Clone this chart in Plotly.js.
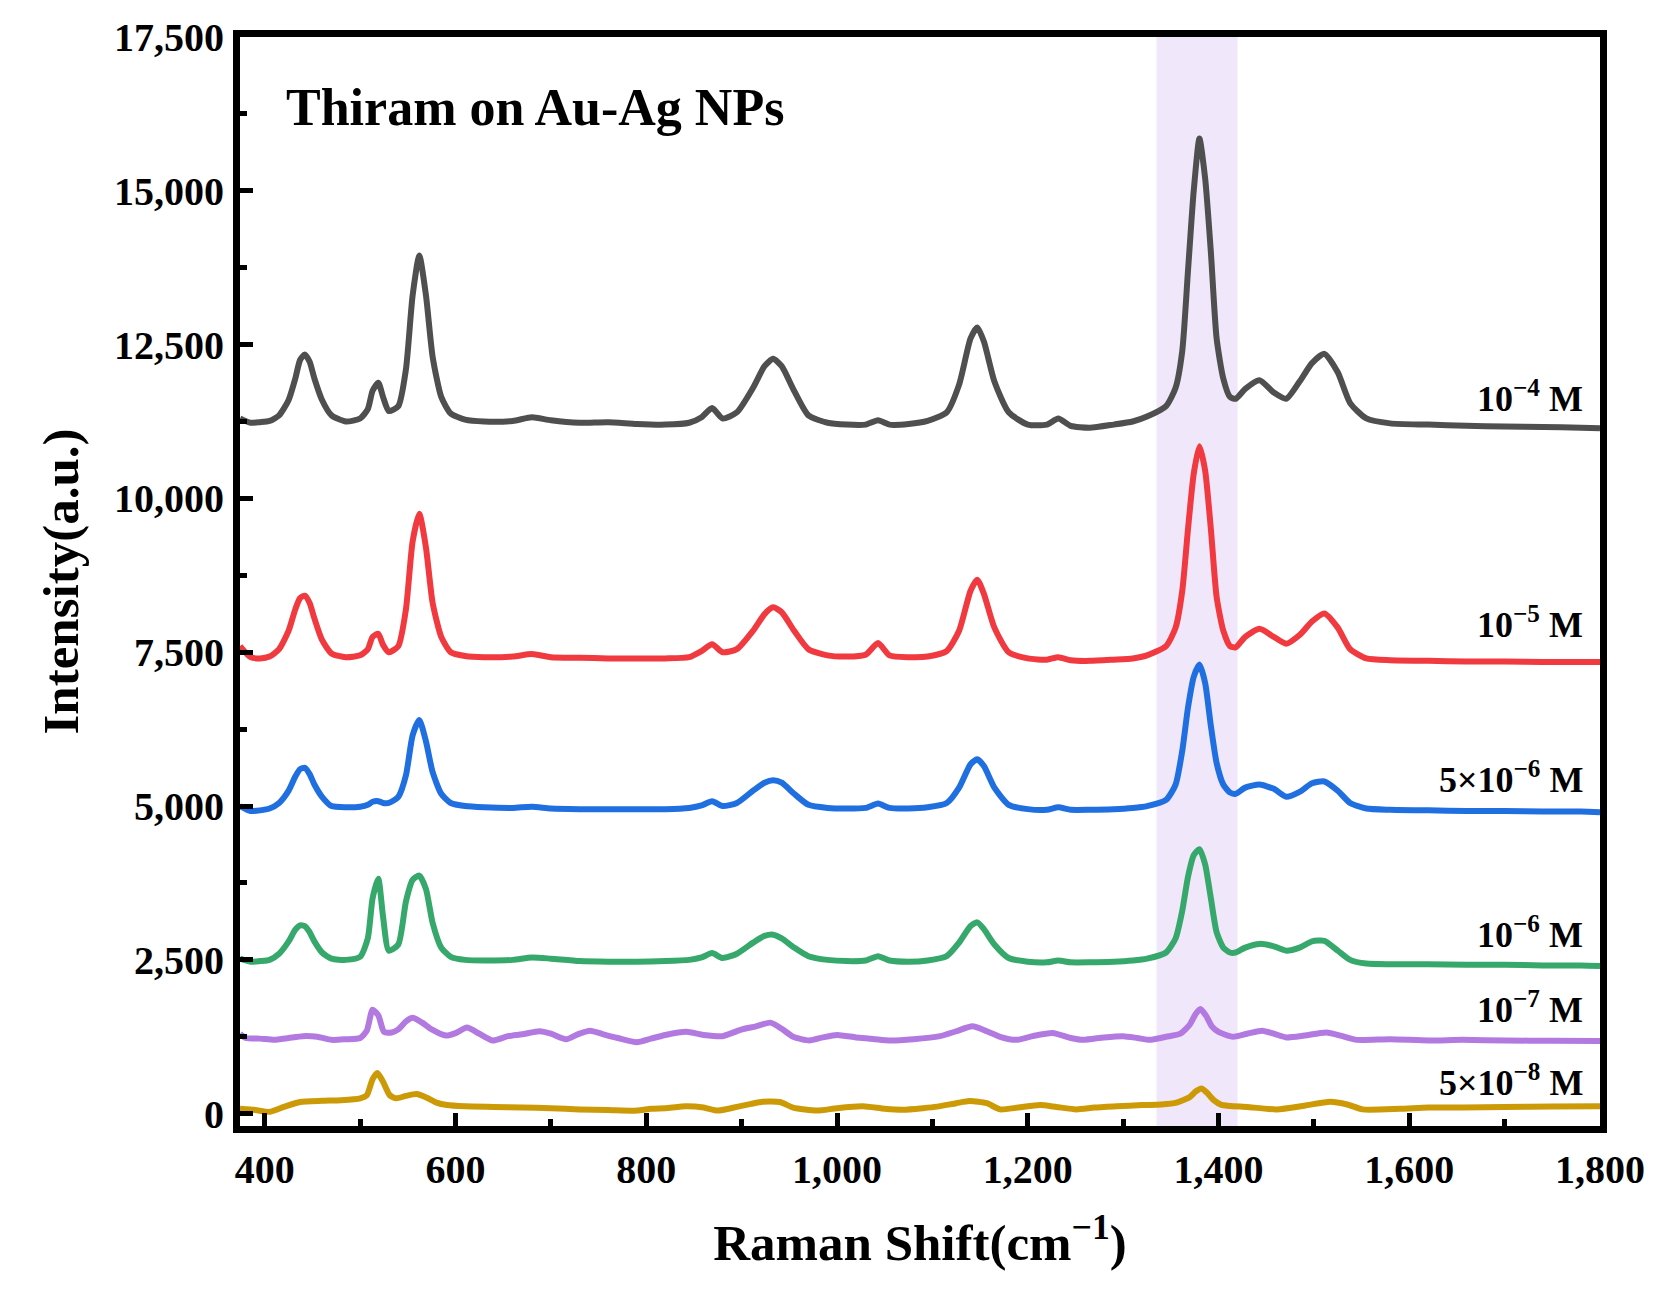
<!DOCTYPE html>
<html>
<head>
<meta charset="utf-8">
<script src="https://cdn.plot.ly/plotly-3.0.1.min.js"></script>
<style>
  body { margin: 0; background: #fff; }
  #myDiv { width: 1661px; height: 1290px; }
</style>
</head>
<body>
<div id="myDiv"></div>
<script>
// Raman shift grid used by the four upper spectra
var shift = [374, 385, 395, 405, 415, 425, 432, 437, 442, 447, 452, 460, 470, 485, 500, 508, 513, 519, 524, 530,
  540, 548, 555, 562, 569, 576, 585, 595, 610, 630, 660, 680, 700, 730, 760, 790, 820, 845, 858, 869,
  880, 895, 912, 924, 933, 942, 955, 970, 990, 1010, 1030, 1043, 1055, 1075, 1095, 1115, 1128, 1140, 1147, 1154,
  1165, 1180, 1200, 1220, 1232, 1245, 1265, 1290, 1310, 1325, 1345, 1355, 1362, 1368, 1374, 1380, 1386, 1392, 1398, 1405,
  1412, 1418, 1428, 1443, 1458, 1471, 1485, 1498, 1511, 1525, 1538, 1555, 1580, 1620, 1660, 1700, 1740, 1780, 1800];

var m1e4 = [11300, 11230, 11240, 11260, 11350, 11600, 11950, 12250, 12340, 12220, 11950, 11600, 11350, 11250, 11300, 11450, 11750, 11880, 11650, 11420,
  11500, 12100, 13300, 13950, 13300, 12300, 11650, 11380, 11280, 11250, 11260, 11320, 11270, 11230, 11240, 11210, 11200, 11230, 11320, 11470,
  11300, 11400, 11800, 12150, 12270, 12150, 11750, 11350, 11230, 11200, 11200, 11270, 11200, 11210, 11260, 11400, 11850, 12600, 12780, 12550,
  11900, 11400, 11200, 11200, 11300, 11180, 11150, 11200, 11250, 11330, 11500, 11800, 12400, 13700, 15000, 15850, 15200, 14000, 12600, 11950,
  11650, 11620, 11780, 11920, 11720, 11620, 11900, 12200, 12350, 12050, 11550, 11300, 11220, 11200, 11180, 11170, 11160, 11150, 11140];

var m1e5 = [7600, 7420, 7400, 7430, 7550, 7850, 8200, 8380, 8420, 8300, 8050, 7700, 7480, 7420, 7450, 7550, 7750, 7800, 7620, 7500,
  7600, 8200, 9300, 9750, 9200, 8300, 7750, 7500, 7440, 7420, 7430, 7470, 7420, 7410, 7400, 7400, 7400, 7420, 7520, 7630,
  7500, 7550, 7850, 8120, 8230, 8150, 7850, 7550, 7450, 7430, 7460, 7650, 7450, 7420, 7430, 7520, 7850, 8500, 8680, 8450,
  7900, 7500, 7400, 7380, 7420, 7370, 7360, 7380, 7400, 7450, 7600, 7900, 8500, 9500, 10400, 10850, 10450, 9500, 8400, 7850,
  7600, 7580, 7750, 7880, 7750, 7640, 7780, 8000, 8130, 7900, 7550, 7400, 7370, 7360, 7350, 7350, 7340, 7340, 7340];

var m5e6 = [5000, 4920, 4930, 4960, 5050, 5250, 5480, 5600, 5620, 5520, 5350, 5150, 5000, 4980, 4990, 5020, 5070, 5080, 5050, 5050,
  5150, 5500, 6150, 6400, 6050, 5550, 5200, 5050, 5000, 4980, 4970, 4990, 4960, 4950, 4950, 4950, 4950, 4970, 5010, 5080,
  5000, 5050, 5250, 5380, 5420, 5380, 5200, 5020, 4970, 4960, 4970, 5040, 4970, 4960, 4980, 5050, 5300, 5680, 5760, 5650,
  5300, 5020, 4950, 4940, 4980, 4940, 4940, 4950, 4970, 5000, 5100, 5350, 5900, 6600, 7100, 7300, 7000, 6300, 5700, 5350,
  5220, 5200, 5300, 5350, 5280, 5150, 5230, 5370, 5400, 5250, 5050, 4960, 4940, 4930, 4920, 4920, 4910, 4910, 4900];

var m1e6 = [2520, 2470, 2480, 2500, 2600, 2800, 2990, 3060, 3050, 2950, 2800, 2620, 2520, 2500, 2550, 2850, 3500, 3820, 3200, 2650,
  2750, 3450, 3800, 3870, 3650, 3100, 2700, 2550, 2500, 2490, 2500, 2540, 2520, 2480, 2470, 2470, 2480, 2500, 2540, 2610,
  2530, 2600, 2780, 2890, 2910, 2850, 2700, 2560, 2500, 2480, 2490, 2560, 2490, 2470, 2490, 2560, 2780, 3050, 3110, 3000,
  2750, 2530, 2470, 2460, 2490, 2460, 2460, 2470, 2490, 2520, 2620, 2850, 3300, 3850, 4200, 4300, 4050, 3500, 2950, 2700,
  2620, 2620, 2700, 2760, 2720, 2650, 2700, 2800, 2810, 2650, 2500, 2440, 2430, 2430, 2420, 2420, 2410, 2410, 2400];

// the two lowest spectra are noisier, so they keep their own shift points
var shift1e7 = [374, 380, 395, 410, 425, 440, 455, 470, 485, 500, 507, 513, 519, 525, 533, 540, 548, 555, 565, 575,
  590, 600, 612, 625, 639, 655, 670, 688, 700, 716, 728, 741, 755, 770, 790, 805, 820, 842, 860, 880,
  898, 915, 930, 942, 954, 971, 985, 1000, 1020, 1040, 1055, 1080, 1108, 1125, 1142, 1157, 1171, 1188, 1205, 1226,
  1245, 1258, 1280, 1300, 1315, 1328, 1345, 1360, 1370, 1376, 1381, 1387, 1393, 1400, 1415, 1430, 1446, 1460, 1471, 1490,
  1513, 1530, 1545, 1580, 1620, 1656, 1700, 1750, 1800];
var m1e7 = [1300, 1230, 1220, 1200, 1230, 1260, 1250, 1200, 1210, 1230, 1350, 1690, 1600, 1330, 1320, 1370, 1500, 1560, 1480, 1370,
  1270, 1310, 1400, 1300, 1190, 1260, 1290, 1340, 1300, 1210, 1290, 1350, 1290, 1230, 1160, 1220, 1280, 1330, 1280, 1260,
  1360, 1420, 1480, 1380, 1250, 1190, 1240, 1280, 1240, 1210, 1190, 1210, 1260, 1340, 1420, 1340, 1250, 1200, 1260, 1310,
  1230, 1200, 1240, 1260, 1230, 1200, 1250, 1300, 1450, 1620, 1700, 1590, 1420, 1330, 1250, 1300, 1350, 1290, 1240, 1270,
  1320, 1260, 1200, 1210, 1190, 1200, 1190, 1185, 1180];

var shift5e8 = [374, 390, 405, 420, 437, 460, 480, 500, 507, 513, 518, 524, 531, 538, 548, 559, 570, 580, 591, 610,
  640, 670, 700, 730, 760, 790, 805, 820, 842, 860, 875, 895, 910, 922, 940, 954, 979, 1000, 1027, 1050,
  1069, 1090, 1105, 1125, 1139, 1157, 1171, 1190, 1213, 1230, 1251, 1270, 1293, 1320, 1340, 1356, 1370, 1376, 1382, 1388,
  1395, 1403, 1430, 1461, 1490, 1517, 1535, 1551, 1590, 1620, 1656, 1700, 1750, 1800];
var m5e8 = [80, 60, 30, 110, 190, 210, 220, 250, 300, 560, 660, 520, 300, 250, 290, 320, 260, 180, 140, 120,
  110, 100, 90, 70, 60, 50, 80, 90, 120, 100, 50, 110, 160, 195, 190, 100, 50, 90, 120, 80,
  65, 90, 115, 170, 205, 170, 70, 100, 140, 110, 70, 100, 120, 140, 150, 180, 270, 360, 410, 340,
  220, 145, 110, 70, 130, 195, 150, 70, 80, 100, 100, 110, 115, 120];

var names = ['10<sup>−4</sup> M', '10<sup>−5</sup> M', '5×10<sup>−6</sup> M', '10<sup>−6</sup> M', '10<sup>−7</sup> M', '5×10<sup>−8</sup> M'];
var colors = ['#4f4f4f', '#f03a3f', '#1f6fe0', '#37a86b', '#b27ae0', '#cc9a06'];
var labelY = [11650, 7980, 5460, 2950, 1730, 540];

var serif = 'Liberation Serif, Times New Roman, serif';

var xs = [shift, shift, shift, shift, shift1e7, shift5e8];
var ys = [m1e4, m1e5, m5e6, m1e6, m1e7, m5e8];

var data = [];
for (var i = 0; i < ys.length; i++) {
  data.push({
    x: xs[i],
    y: ys[i],
    name: names[i],
    type: 'scatter',
    mode: 'lines',
    line: { color: colors[i], width: 6, shape: 'spline', smoothing: 0.6 }
  });
}

var annotations = [{
  text: 'Thiram on Au-Ag NPs',
  xref: 'x', yref: 'y', x: 420, y: 16350,
  xanchor: 'left', yanchor: 'middle', showarrow: false,
  font: { family: serif, size: 52, weight: 'bold', color: '#000' }
}];
for (var j = 0; j < names.length; j++) {
  annotations.push({
    text: names[j],
    xref: 'x', yref: 'y', x: 1784, y: labelY[j],
    xanchor: 'right', yanchor: 'middle', showarrow: false,
    font: { family: serif, size: 36, weight: 'bold', color: '#000' }
  });
}

var layout = {
  width: 1661,
  height: 1290,
  margin: { l: 240, r: 61, t: 37, b: 164 },
  paper_bgcolor: '#fff',
  plot_bgcolor: '#fff',
  showlegend: false,
  font: { family: serif, color: '#000' },
  xaxis: {
    range: [374, 1800],
    tickvals: [400, 600, 800, 1000, 1200, 1400, 1600, 1800],
    tickformat: ',d',
    ticks: 'inside', ticklen: 13, tickwidth: 5, tickcolor: '#000',
    minor: { dtick: 100, tick0: 0, ticks: 'inside', ticklen: 7, tickwidth: 5, tickcolor: '#000' },
    showline: true, linecolor: '#000', linewidth: 7, mirror: true,
    showgrid: false, zeroline: false,
    ticklabelstandoff: 2,
    tickfont: { family: serif, size: 40, weight: 'bold', color: '#000' },
    title: {
      text: 'Raman Shift(cm<sup>−1</sup>)',
      font: { family: serif, size: 51, weight: 'bold', color: '#000' },
      standoff: 36
    }
  },
  yaxis: {
    range: [-200, 17500],
    tickvals: [0, 2500, 5000, 7500, 10000, 12500, 15000, 17500],
    tickformat: ',d',
    ticks: 'inside', ticklen: 13, tickwidth: 5, tickcolor: '#000',
    minor: { dtick: 1250, tick0: 0, ticks: 'inside', ticklen: 7, tickwidth: 5, tickcolor: '#000' },
    showline: true, linecolor: '#000', linewidth: 7, mirror: true,
    showgrid: false, zeroline: false,
    ticklabelstandoff: 1,
    tickfont: { family: serif, size: 40, weight: 'bold', color: '#000' },
    title: {
      text: 'Intensity(a.u.)',
      font: { family: serif, size: 51, weight: 'bold', color: '#000' },
      standoff: 22
    }
  },
  shapes: [{
    type: 'rect', xref: 'x', yref: 'paper',
    x0: 1335, x1: 1420, y0: 0, y1: 1,
    fillcolor: '#f0e7fa', line: { width: 0 }, layer: 'below'
  }],
  annotations: annotations
};

Plotly.newPlot('myDiv', data, layout, { displayModeBar: false, staticPlot: true });
</script>
</body>
</html>
